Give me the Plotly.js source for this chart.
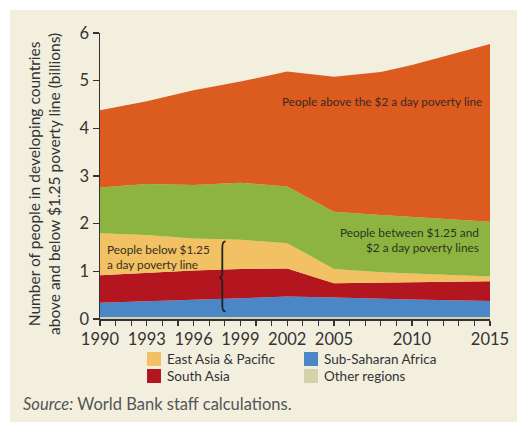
<!DOCTYPE html>
<html>
<head>
<meta charset="utf-8">
<script src="https://cdn.plot.ly/plotly-3.0.1.min.js"></script>
<style>html,body{margin:0;padding:0;background:#fff;}#chart{width:517px;height:424px;}</style>
</head>
<body>
<div id="chart"></div>
<script>
// ---- data (billions of people) ----
const years = [1990, 1993, 1996, 1999, 2002, 2005, 2008, 2010, 2015];
const otherRegions     = [0.04, 0.04, 0.04, 0.04, 0.04, 0.04, 0.04, 0.04, 0.04];
const subSaharanAfrica = [0.30, 0.33, 0.37, 0.39, 0.43, 0.41, 0.38, 0.37, 0.34];
const southAsia        = [0.58, 0.60, 0.61, 0.62, 0.59, 0.30, 0.34, 0.36, 0.41];
const eastAsiaPacific  = [0.88, 0.79, 0.67, 0.61, 0.53, 0.30, 0.22, 0.18, 0.10];
const between125and2   = [0.96, 1.07, 1.12, 1.20, 1.19, 1.20, 1.20, 1.19, 1.15];
const above2           = [1.62, 1.74, 1.99, 2.12, 2.41, 2.83, 3.00, 3.19, 3.73];

const tickLabelYears = [1990, 1993, 1996, 1999, 2002, 2005, 2010, 2015];
const yTicks = [0, 1, 2, 3, 4, 5, 6];

const legendNames = ['East Asia & Pacific', 'South Asia', 'Sub-Saharan Africa', 'Other regions'];

// ---- styling ----
const COL = {
  other: '#d2d3aa', ssa: '#4b86c6', sa: '#b3161f', eap: '#f1c163',
  between: '#8db441', above: '#dc5b1f', bg: '#f2efdf', ink: '#333333'
};
const FONT = 'Lato, "Open Sans", sans-serif';
const W = 517, H = 424;
const M = {l: 100, r: 27, t: 33, b: 105};
const PW = W - M.l - M.r, PH = H - M.t - M.b;
const px = x => (x - M.l) / PW;           // pixel -> paper x
const py = y => (H - M.b - y) / PH;       // pixel -> paper y

function area(name, vals, color) {
  return {
    type: 'scatter', mode: 'lines', x: years, y: vals, name: name,
    stackgroup: 'one', fillcolor: color,
    line: {width: 0, color: color, shape: 'linear'},
    showlegend: false, hoverinfo: 'skip'
  };
}
const traces = [
  area('Other regions', otherRegions, COL.other),
  area('Sub-Saharan Africa', subSaharanAfrica, COL.ssa),
  area('South Asia', southAsia, COL.sa),
  area('East Asia & Pacific', eastAsiaPacific, COL.eap),
  area('People between $1.25 and $2 a day', between125and2, COL.between),
  area('People above $2 a day', above2, COL.above)
];

const allYears = [];
for (let y = years[0]; y <= years[years.length - 1]; y++) allYears.push(y);
const tickText = allYears.map(y => tickLabelYears.includes(y) ? String(y) : '');

// brace (data coords)
const bx = 1997.84, bTop = 1.63, bMid = 0.87, bBot = 0.16, bw = 0.21;
const bracePath =
  `M ${bx + bw},${bTop} Q ${bx},${bTop} ${bx},${bTop - 0.13} ` +
  `L ${bx},${bMid + 0.10} Q ${bx},${bMid} ${bx - bw},${bMid} ` +
  `Q ${bx},${bMid} ${bx},${bMid - 0.10} ` +
  `L ${bx},${bBot + 0.13} Q ${bx},${bBot} ${bx + bw},${bBot}`;

const legendColors = {'East Asia & Pacific': COL.eap, 'South Asia': COL.sa,
  'Sub-Saharan Africa': COL.ssa, 'Other regions': COL.other};
const legendPos = [[147, 352], [147, 369], [304, 352], [304, 369]];

const shapes = [
  {type: 'rect', xref: 'paper', yref: 'paper', layer: 'below',
   x0: px(10), x1: px(W + 5), y0: py(422), y1: py(10),
   fillcolor: COL.bg, line: {width: 0}},
  {type: 'path', xref: 'x', yref: 'y', path: bracePath, layer: 'above',
   line: {color: '#222', width: 1.8}}
];
const annotations = [
  {xref: 'x', yref: 'y', x: 2008.1, y: 4.57, xanchor: 'center', yanchor: 'middle',
   text: 'People above the $2 a day poverty line',
   showarrow: false, font: {family: FONT, size: 11.8, color: '#3a2a20'}},
  {xref: 'x', yref: 'y', x: 2014.4, y: 1.65, xanchor: 'right', yanchor: 'middle', align: 'right',
   text: 'People between $1.25 and<br>$2 a day poverty lines',
   showarrow: false, font: {family: FONT, size: 11.8, color: '#2e3320'}},
  {xref: 'x', yref: 'y', x: 1990.35, y: 1.31, xanchor: 'left', yanchor: 'middle', align: 'left',
   text: 'People below $1.25<br>a day poverty line',
   showarrow: false, font: {family: FONT, size: 11.8, color: '#3a2f20'}},
  {xref: 'paper', yref: 'paper', x: px(44), y: py(184), textangle: -90,
   xanchor: 'center', yanchor: 'middle',
   text: 'Number of people in developing countries<br>above and below $1.25 poverty line (billions)',
   showarrow: false, font: {family: FONT, size: 15.5, color: COL.ink}},
  {xref: 'paper', yref: 'paper', x: px(21), y: py(404), xanchor: 'left', yanchor: 'middle',
   text: '<i>Source:</i> World Bank staff calculations.',
   showarrow: false, font: {family: FONT, size: 16.5, color: '#555'}}
];
legendNames.forEach((n, i) => {
  const [lx, ly] = legendPos[i];
  shapes.push({type: 'rect', xref: 'paper', yref: 'paper', layer: 'above',
    x0: px(lx), x1: px(lx + 14), y0: py(ly + 14), y1: py(ly),
    fillcolor: legendColors[n], line: {width: 0}});
  annotations.push({xref: 'paper', yref: 'paper', x: px(lx + 18), y: py(ly + 7),
    xanchor: 'left', yanchor: 'middle', text: n, showarrow: false,
    font: {family: FONT, size: 13.5, color: COL.ink}});
});

const layout = {
  width: W, height: H, margin: M,
  paper_bgcolor: '#ffffff', plot_bgcolor: 'rgba(0,0,0,0)',
  showlegend: false,
  font: {family: FONT, color: COL.ink},
  xaxis: {
    range: [years[0], years[years.length - 1]], tickmode: 'array',
    tickvals: allYears, ticktext: tickText, ticks: 'outside', ticklen: 5,
    tickcolor: COL.ink, tickwidth: 1.2, showline: true, linecolor: COL.ink, linewidth: 1.5,
    showgrid: false, zeroline: false, tickfont: {family: FONT, size: 16.5, color: COL.ink},
    fixedrange: true
  },
  yaxis: {
    range: [0, 6], tickmode: 'array', tickvals: yTicks, ticks: 'outside', ticklen: 6,
    tickcolor: COL.ink, tickwidth: 1.2, showline: true, linecolor: COL.ink, linewidth: 1.5,
    showgrid: false, zeroline: false, tickfont: {family: FONT, size: 16.5, color: COL.ink},
    fixedrange: true
  },
  shapes: shapes,
  annotations: annotations
};

Plotly.newPlot('chart', traces, layout, {displayModeBar: false, staticPlot: true});
</script>
</body>
</html>
